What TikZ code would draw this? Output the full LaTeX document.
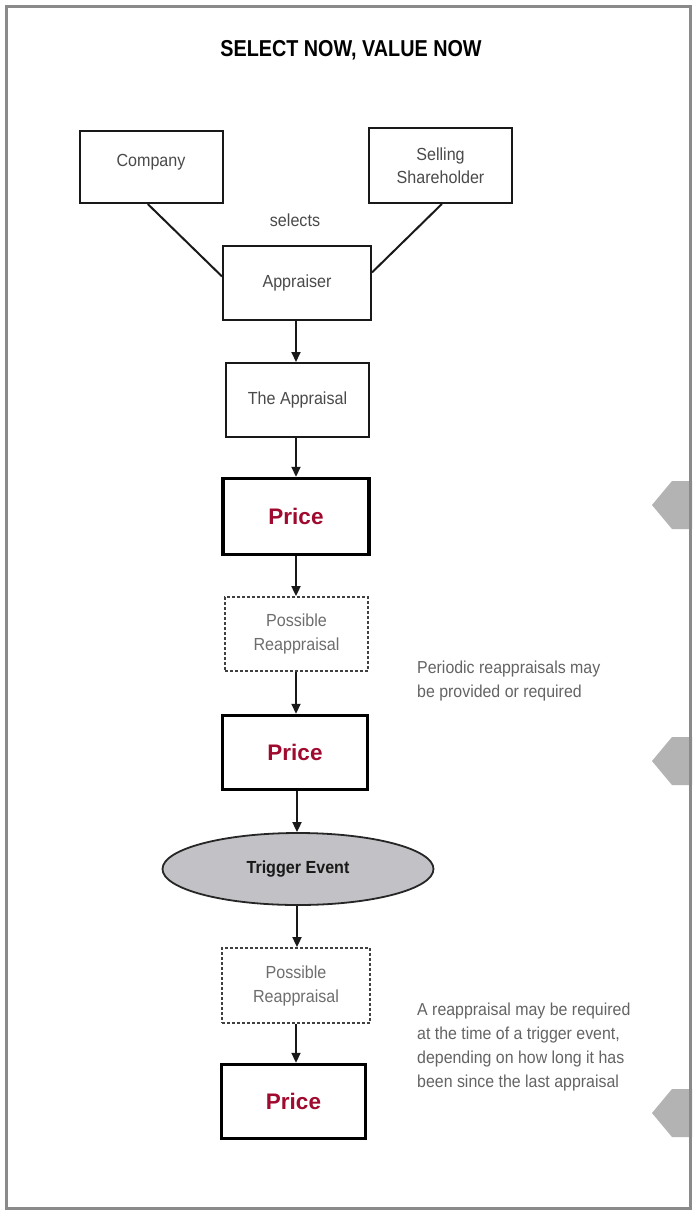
\documentclass[tikz,border=0pt]{standalone}
\usepackage{fontspec}
\usetikzlibrary{arrows.meta,shapes.geometric}
\newfontfamily\condfont[FakeStretch=0.92]{Liberation Sans}
\newfontfamily\headfont[FakeStretch=0.86]{Liberation Sans}
\newfontfamily\pricefont{Liberation Sans}
\definecolor{boxtext}{HTML}{4A4A4A}
\definecolor{softtext}{HTML}{6E6E6E}
\definecolor{notetext}{HTML}{646464}
\definecolor{pricered}{HTML}{A00A2E}
\definecolor{framegray}{HTML}{8A8A8A}
\definecolor{tabgray}{HTML}{B3B3B3}
\definecolor{eventfill}{HTML}{C2C2C6}
\tikzset{
  plainbox/.style={draw=black!90, line width=2pt, fill=white, inner sep=2pt,
    align=center, text=boxtext, font=\condfont\fontsize{17.5}{23.5}\selectfont},
  maybebox/.style={draw=black!75, line width=1.8pt, dash pattern=on 3pt off 2pt,
    fill=white, inner sep=2pt, align=center, text=softtext,
    font=\condfont\fontsize{17.5}{24}\selectfont},
  pricebox/.style={draw=black, line width=3.4pt, fill=white, inner sep=2pt,
    text=pricered, font=\pricefont\bfseries\fontsize{22.5}{26}\selectfont},
  eventnode/.style={ellipse, draw=black!85, line width=1.8pt, fill=eventfill,
    inner sep=0pt, font=\condfont\bfseries\fontsize{17.5}{20}\selectfont, text=black!90},
  note/.style={anchor=west, inner sep=0pt, align=left, text=notetext,
    font=\condfont\fontsize{17.3}{24}\selectfont},
  flow/.style={draw=black!90, line width=1.8pt, -{Triangle[length=10pt,width=9pt]}},
  link/.style={draw=black!90, line width=2pt},
  sidetab/.style={fill=tabgray, draw=none}
}
\begin{document}
\begin{tikzpicture}[x=1pt,y=-1pt]
\useasboundingbox (0,0) rectangle (693,1211);
\fill[white] (0,0) rectangle (693,1211);

% page-edge tabs
\foreach \ty in {505,761,1113}{
  \fill[sidetab] (652,\ty) -- (672,\ty-24) -- (692,\ty-24) -- (692,\ty+24) -- (672,\ty+24) -- cycle;
}
% outer frame
\draw[framegray, line width=2.8pt] (6.3,6.3) rectangle (690.5,1208.7);

% title
\node (title) at (351,50) {\headfont\bfseries\fontsize{23}{27}\selectfont SELECT NOW, VALUE NOW};

% parties
\node[plainbox, minimum width=143pt, minimum height=72pt] (company) at (151,167) {\raisebox{14pt}{Company}};
\node[plainbox, minimum width=143pt, minimum height=75pt] (seller) at (440.5,165.5) {Selling\\Shareholder};
\node[text=boxtext, font=\condfont\fontsize{17.5}{20}\selectfont] (selects) at (295,220) {selects};
\node[plainbox, minimum width=148pt, minimum height=74pt] (appraiser) at (297,283) {Appraiser};
\draw[link] (company.265) -- (appraiser.175);
\draw[link] (seller.272) -- (appraiser.8);

% main flow
\node[plainbox, minimum width=143pt, minimum height=74pt] (appraisal) at (297.5,400) {The Appraisal};
\node[pricebox, minimum width=146pt, minimum height=76pt] (price1) at (296,516.5) {Price};
\node[maybebox, minimum width=143pt, minimum height=74pt] (reapp1) at (296.5,634) {Possible\\Reappraisal};
\node[pricebox, minimum width=145pt, minimum height=74pt] (price2) at (295,752.5) {Price};
\node[eventnode, minimum width=271pt, minimum height=72pt] (trigger) at (298,869) {Trigger Event};
\node[maybebox, minimum width=148pt, minimum height=75pt] (reapp2) at (296,985.5) {Possible\\Reappraisal};
\node[pricebox, minimum width=144pt, minimum height=74pt] (price3) at (293.5,1101.5) {Price};

\coordinate (c1) at (296,0);
\draw[flow] (appraiser.south -| c1) -- (appraisal.north -| c1);
\draw[flow] (appraisal.south -| c1) -- (price1.north -| c1);
\draw[flow] (price1.south -| c1) -- (reapp1.north -| c1);
\draw[flow] (reapp1.south -| c1) -- (price2.north -| c1);
\coordinate (c2) at (297,0);
\draw[flow] (price2.south -| c2) -- (trigger.north -| c2);
\draw[flow] (trigger.south -| c2) -- (reapp2.north -| c2);
\coordinate (c3) at (296,0);
\draw[flow] (reapp2.south -| c3) -- (price3.north -| c3);

% side notes
\node[note] (note1) at (417,681) {Periodic reappraisals may\\be provided or required};
\node[note] (note2) at (417,1047) {A reappraisal may be required\\at the time of a trigger event,\\depending on how long it has\\been since the last appraisal};
\end{tikzpicture}
\end{document}
